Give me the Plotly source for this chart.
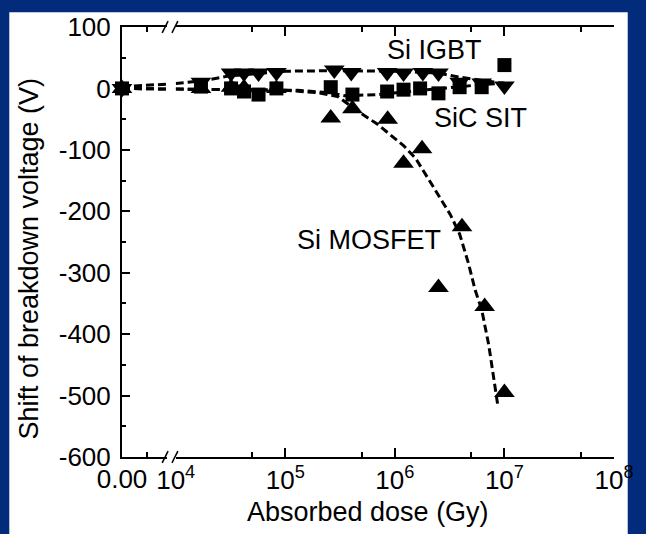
import plotly.graph_objects as go

# ---------------- data ----------------
# points at zero dose (left, linear segment of the broken axis)
zero_x = [0, 0, 0]
zero_y = [0, 0, 0]

# Si IGBT (down triangles)
igbt_x = [1.7e4, 3.2e4, 4.2e4, 5.7e4, 8.3e4, 2.8e5, 4.0e5, 8.5e5, 1.2e6, 1.8e6, 2.5e6, 3.9e6, 6.2e6, 1.0e7]
igbt_y = [10, 25, 25, 25, 26, 30, 26, 26, 25, 26, 25, 10, 9, 4]

# SiC SIT (squares)
sit_x = [1.7e4, 3.2e4, 4.2e4, 5.7e4, 8.3e4, 2.6e5, 4.1e5, 8.5e5, 1.2e6, 1.7e6, 2.5e6, 3.9e6, 6.2e6, 1.0e7]
sit_y = [3, 0, -5, -10, 0, 2, -10, -5, -2, 0, -8, 2, 2, 38]

# Si MOSFET (up triangles)
mos_x = [1.7e4, 3.2e4, 4.2e4, 8.3e4, 2.6e5, 4.1e5, 8.6e5, 1.2e6, 1.77e6, 2.5e6, 4.1e6, 6.6e6, 1.0e7]
mos_y = [0, 2, 1, 0, -48, -33, -50, -122, -98, -324, -225, -355, -495]

# dashed guide curves: left (zero) segment and log segment
igbt_fit_left_x = [0, 0.9]
igbt_fit_left_y = [3, 7]
igbt_fit_x = [1e4, 1.7e4, 3e4, 6e4, 1e5, 3e5, 1e6, 2.5e6, 4e6, 1e7]
igbt_fit_y = [8, 12, 20, 25, 28, 29, 28, 25, 18, 8]

sit_fit_left_x = [0, 0.9]
sit_fit_left_y = [0, -1]
sit_fit_x = [1e4, 1.3e5, 2.5e5, 3.5e5, 7e5, 1.2e6, 2e6, 4e6, 6e6, 1e7]
sit_fit_y = [-1, -3, -7, -12, -10, -6, -2, 4, 6, 9]

mos_fit_left_x = [0, 0.9]
mos_fit_left_y = [0, -1]
mos_fit_x = [1e4, 1e5, 2e5, 3e5, 4.6e5, 6.9e5, 1.2e6, 1.55e6, 2.1e6, 3.2e6, 3.9e6, 4.7e6, 5.4e6, 6.2e6, 7.2e6, 8.7e6]
mos_fit_y = [-1, -3, -7, -13, -37, -58, -93, -114, -152, -205, -237, -285, -328, -360, -418, -516]

# axis tick labels
y_tickvals = [100, 0, -100, -200, -300, -400, -500, -600]
y_ticktext = ["100", "0", "-100", "-200", "-300", "-400", "-500", "-600"]
x_log_tickvals = [1e4, 1e5, 1e6, 1e7, 1e8]
x_log_ticktext = ["10<sup>4</sup>", "10<sup>5</sup>", "10<sup>6</sup>", "10<sup>7</sup>", "10<sup>8</sup>"]
x_zero_tickvals = [0]
x_zero_ticktext = ["0.00"]

labels = ["Si IGBT", "SiC SIT", "Si MOSFET"]

# ---------------- figure ----------------
FONT = "Liberation Sans, Arial, Helvetica, sans-serif"
NAVY = "#022b7c"
dash = "8px,4px"
lw = 3

fig = go.Figure()

def line(x, y, xa):
    fig.add_trace(go.Scatter(x=x, y=y, xaxis=xa, yaxis="y", mode="lines",
                             line=dict(color="black", width=lw, dash=dash),
                             hoverinfo="skip", showlegend=False, cliponaxis=False))

line(igbt_fit_left_x, igbt_fit_left_y, "x")
line(sit_fit_left_x, sit_fit_left_y, "x")
line(mos_fit_left_x, mos_fit_left_y, "x")
line(igbt_fit_x, igbt_fit_y, "x2")
line(sit_fit_x, sit_fit_y, "x2")
line(mos_fit_x, mos_fit_y, "x2")

def pts(x, y, xa, sym, size):
    fig.add_trace(go.Scatter(x=x, y=y, xaxis=xa, yaxis="y", mode="markers",
                             marker=dict(symbol=sym, size=size, color="black",
                                         line=dict(width=0)),
                             showlegend=False, cliponaxis=False))

TRI = 18
SQ = 14
pts(sit_x, sit_y, "x2", "square", SQ)
pts(igbt_x, igbt_y, "x2", "triangle-down", TRI)
pts(mos_x, mos_y, "x2", "triangle-up", TRI)
pts(zero_x[:1], zero_y[:1], "x", "square", SQ)
pts(zero_x[1:2], zero_y[1:2], "x", "triangle-down", TRI)
pts(zero_x[2:], zero_y[2:], "x", "triangle-up", TRI)

L, R, T, B = 122, 22, 19, 77
W, H = 646, 534
pw, ph = W - L - R, H - T - B

def px(xp):
    return (xp - L) / pw

def py(yp):
    return (H - B - yp) / ph

base = dict(showgrid=False, zeroline=False, showline=True, linecolor="black",
            linewidth=2, ticks="inside", tickcolor="black", tickwidth=2,
            tickfont=dict(family=FONT, size=26, color="black"))

fig.update_layout(
    width=W, height=H,
    margin=dict(l=L, r=R, t=T, b=B, pad=0),
    paper_bgcolor=NAVY, plot_bgcolor="white",
    showlegend=False,
    xaxis=dict(domain=[0, px(168)], range=[0, 0.9], anchor="y", mirror="ticks",
               tickmode="array", tickvals=x_zero_tickvals, ticktext=x_zero_ticktext,
               ticklen=9, ticklabelstandoff=-2,
               minor=dict(tickvals=[0.5], ticks="inside", ticklen=5, tickwidth=2, tickcolor="black"),
               **base),
    xaxis2=dict(domain=[px(176.8), 1], type="log", range=[4, 8], anchor="y", mirror="ticks",
                tickmode="array", tickvals=x_log_tickvals, ticktext=x_log_ticktext,
                ticklen=9, ticklabelstandoff=-1,
                minor=dict(tickvals=[5e4, 5e5, 5e6, 5e7], ticks="inside", ticklen=5,
                           tickwidth=2, tickcolor="black"),
                **base),
    yaxis=dict(domain=[0, 1], range=[-600, 100], anchor="x", side="left", mirror=False,
               tickmode="array", tickvals=y_tickvals, ticktext=y_ticktext,
               ticklen=8, ticklabelstandoff=4,
               minor=dict(dtick=50, ticks="inside", ticklen=4, tickwidth=2, tickcolor="black"),
               **base),
    yaxis2=dict(domain=[0, 1], range=[-600, 100], anchor="x2", side="right",
                overlaying="y", showticklabels=False,
                tickmode="array", tickvals=y_tickvals, ticklen=8,
                minor=dict(dtick=50, ticks="inside", ticklen=4, tickwidth=2, tickcolor="black"),
                **base),
)

# white slide area over the navy frame
fig.add_shape(type="rect", xref="paper", yref="paper", layer="below",
              x0=px(7), x1=px(638), y0=py(536), y1=py(4),
              fillcolor="white", line=dict(width=0))

# axis break marks
for yb in (T, H - B):
    for xb in (166, 176):
        fig.add_shape(type="line", xref="paper", yref="paper",
                      x0=px(xb - 3), y0=py(yb + 6), x1=px(xb + 3), y1=py(yb - 6),
                      line=dict(color="black", width=1.5))

tf = dict(family=FONT, size=27, color="black")
fig.add_annotation(text=labels[0], xref="paper", yref="paper", x=px(441), y=py(42),
                   showarrow=False, font=tf, xanchor="center", yanchor="middle")
fig.add_annotation(text=labels[1], xref="paper", yref="paper", x=px(488), y=py(112),
                   showarrow=False, font=tf, xanchor="center", yanchor="middle")
fig.add_annotation(text=labels[2], xref="paper", yref="paper", x=px(374), y=py(236),
                   showarrow=False, font=tf, xanchor="center", yanchor="middle")

fig.add_annotation(text="Absorbed dose (Gy)", xref="paper", yref="paper", x=px(373), y=py(513),
                   showarrow=False, font=tf, xanchor="center", yanchor="middle")
fig.add_annotation(text="Shift of breakdown voltage (V)", xref="paper", yref="paper",
                   x=px(27), y=py(255), textangle=-90,
                   showarrow=False, font=tf, xanchor="center", yanchor="middle")

fig.write_html("out.html")
